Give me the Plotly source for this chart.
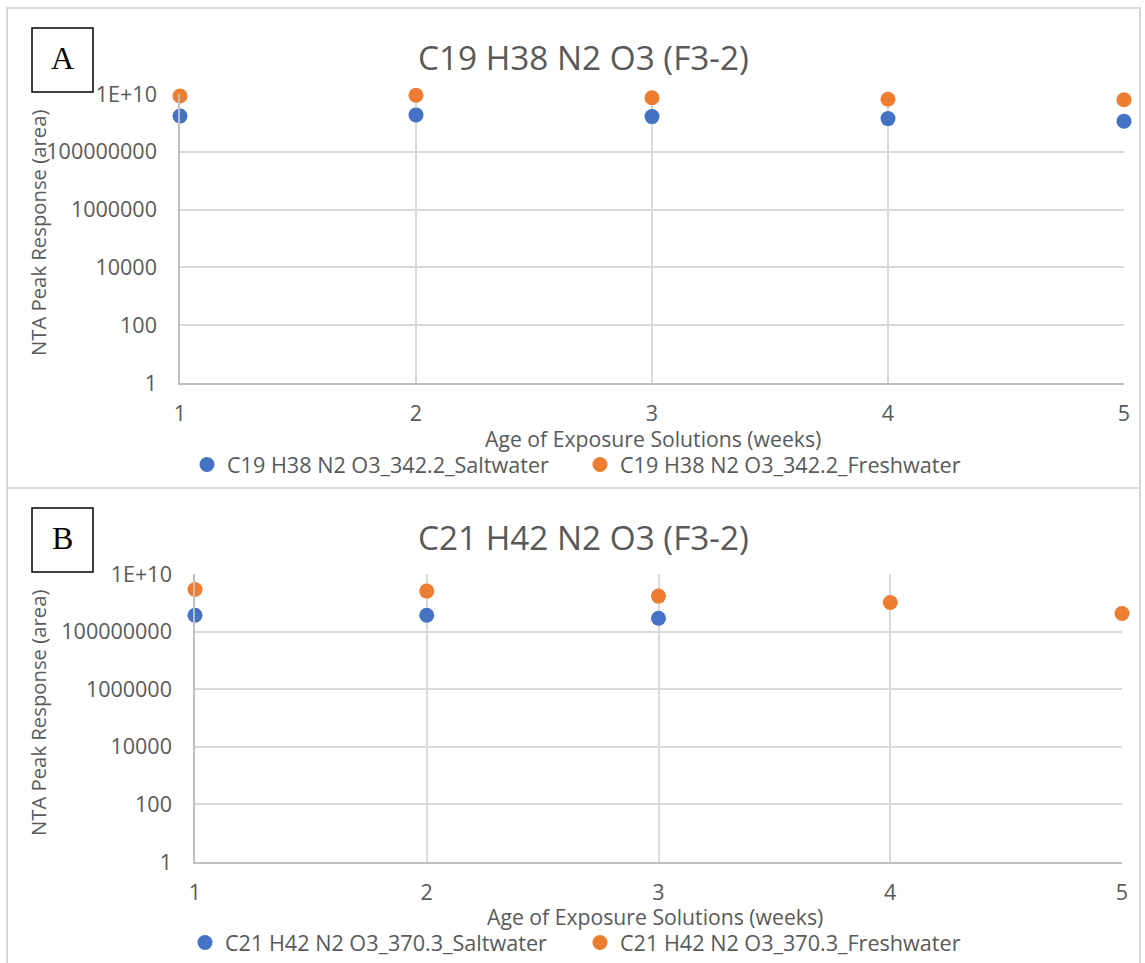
import plotly.graph_objects as go

# ---------------- data ----------------
weeks = [1, 2, 3, 4, 5]

a_saltwater = [1.74e9, 1.89e9, 1.65e9, 1.41e9, 1.15e9]
a_freshwater = [8.5e9, 9.0e9, 7.45e9, 6.56e9, 6.36e9]

b_saltwater = [3.7e8, 3.7e8, 2.9e8, None, None]
b_freshwater = [2.9e9, 2.55e9, 1.71e9, 1.03e9, 4.25e8]

y_tick_vals = [1, 100, 1e4, 1e6, 1e8, 1e10]
y_tick_text = ["1", "100", "10000", "1000000", "100000000", "1E+10"]

a_title = "C19 H38 N2 O3 (F3-2)"
b_title = "C21 H42 N2 O3 (F3-2)"
a_names = ["C19 H38 N2 O3_342.2_Saltwater", "C19 H38 N2 O3_342.2_Freshwater"]
b_names = ["C21 H42 N2 O3_370.3_Saltwater", "C21 H42 N2 O3_370.3_Freshwater"]
x_title = "Age of Exposure Solutions (weeks)"
y_title = "NTA Peak Response (area)"

# ---------------- styling ----------------
W, H = 1145, 963
BLUE = "#4472C4"
ORANGE = "#ED7D31"
TXT = "#595959"
GRID = "#d9d9d9"
AXL = "#bfbfbf"
FONT = "Open Sans"


def px(x):
    return x / W


def py(y):
    return 1 - y / H


fig = go.Figure()

MS = 15
fig.add_trace(go.Scatter(x=weeks, y=a_saltwater, mode="markers", name=a_names[0],
                         marker=dict(color=BLUE, size=MS), xaxis="x", yaxis="y",
                         legend="legend", cliponaxis=False))
fig.add_trace(go.Scatter(x=weeks, y=a_freshwater, mode="markers", name=a_names[1],
                         marker=dict(color=ORANGE, size=MS), xaxis="x", yaxis="y",
                         legend="legend", cliponaxis=False))
fig.add_trace(go.Scatter(x=weeks, y=b_saltwater, mode="markers", name=b_names[0],
                         marker=dict(color=BLUE, size=MS), xaxis="x2", yaxis="y2",
                         legend="legend2", cliponaxis=False))
fig.add_trace(go.Scatter(x=weeks, y=b_freshwater, mode="markers", name=b_names[1],
                         marker=dict(color=ORANGE, size=MS), xaxis="x2", yaxis="y2",
                         legend="legend2", cliponaxis=False))

tickfont = dict(family=FONT, size=21.5, color=TXT)


def xax(x0, x1, anchor):
    return dict(domain=[px(x0), px(x1)], range=[1, 5], tickvals=weeks,
                showgrid=True, gridcolor=GRID, gridwidth=1.5, zeroline=False,
                showline=True, linecolor=AXL, linewidth=1.5, ticks="",
                tickfont=tickfont, ticklabelstandoff=10, anchor=anchor)


def yax(y0, y1, anchor):
    return dict(domain=[py(y1), py(y0)], type="log", range=[0, 10],
                tickvals=y_tick_vals, ticktext=y_tick_text,
                showgrid=True, gridcolor=GRID, gridwidth=1.5, zeroline=False,
                showline=True, linecolor=AXL, linewidth=1.5, ticks="",
                tickfont=tickfont, ticklabelstandoff=17, anchor=anchor)


legfont = dict(family=FONT, size=21.6, color=TXT)

fig.update_layout(
    width=W, height=H,
    margin=dict(l=0, r=0, t=0, b=0, autoexpand=False),
    paper_bgcolor="white", plot_bgcolor="white",
    font=dict(family=FONT, color=TXT),
    xaxis=xax(180, 1124, "y"),
    yaxis=yax(94, 383, "x"),
    xaxis2=xax(195, 1122, "y2"),
    yaxis2=yax(574, 862, "x2"),
    legend=dict(orientation="h", x=px(187), y=py(465), xanchor="left", yanchor="middle",
                font=legfont, entrywidth=348, entrywidthmode="pixels",
                bgcolor="rgba(0,0,0,0)"),
    legend2=dict(orientation="h", x=px(185), y=py(943), xanchor="left", yanchor="middle",
                 font=legfont, entrywidth=350, entrywidthmode="pixels",
                 bgcolor="rgba(0,0,0,0)"),
)

line = dict(color=GRID, width=2)
shapes = [
    # panel A frame
    dict(type="rect", xref="paper", yref="paper", x0=px(7), x1=px(1140), y0=py(488), y1=py(8),
         line=line, layer="below"),
    # panel B frame (runs off the bottom of the picture)
    dict(type="line", xref="paper", yref="paper", x0=px(7), x1=px(7), y0=0, y1=py(488),
         line=line, layer="below"),
    dict(type="line", xref="paper", yref="paper", x0=px(1140), x1=px(1140), y0=0, y1=py(488),
         line=line, layer="below"),
    # letter boxes
    dict(type="rect", xref="paper", yref="paper", x0=px(32), x1=px(93), y0=py(92), y1=py(28),
         line=dict(color="black", width=1.5)),
    dict(type="rect", xref="paper", yref="paper", x0=px(32), x1=px(93), y0=py(572), y1=py(508),
         line=dict(color="black", width=1.5)),
]
fig.update_layout(shapes=shapes)


def ann(text, x, y, size, angle=0, family=FONT, color=TXT):
    return dict(text=text, x=px(x), y=py(y), xref="paper", yref="paper",
                xanchor="center", yanchor="middle", showarrow=False,
                textangle=angle, font=dict(family=family, size=size, color=color))


annotations = [
    ann(a_title, 583, 57, 33.3),
    ann(b_title, 583, 537, 33.3),
    ann(x_title, 653, 438, 21.2),
    ann(x_title, 655, 916, 21.2),
    ann(y_title, 38, 233, 20.3, angle=-90),
    ann(y_title, 38, 713, 20.3, angle=-90),
    ann("A", 62, 58, 32, family="Liberation Serif", color="black"),
    ann("B", 62, 538, 32, family="Liberation Serif", color="black"),
]
fig.update_layout(annotations=annotations)

fig.write_html("out.html")
